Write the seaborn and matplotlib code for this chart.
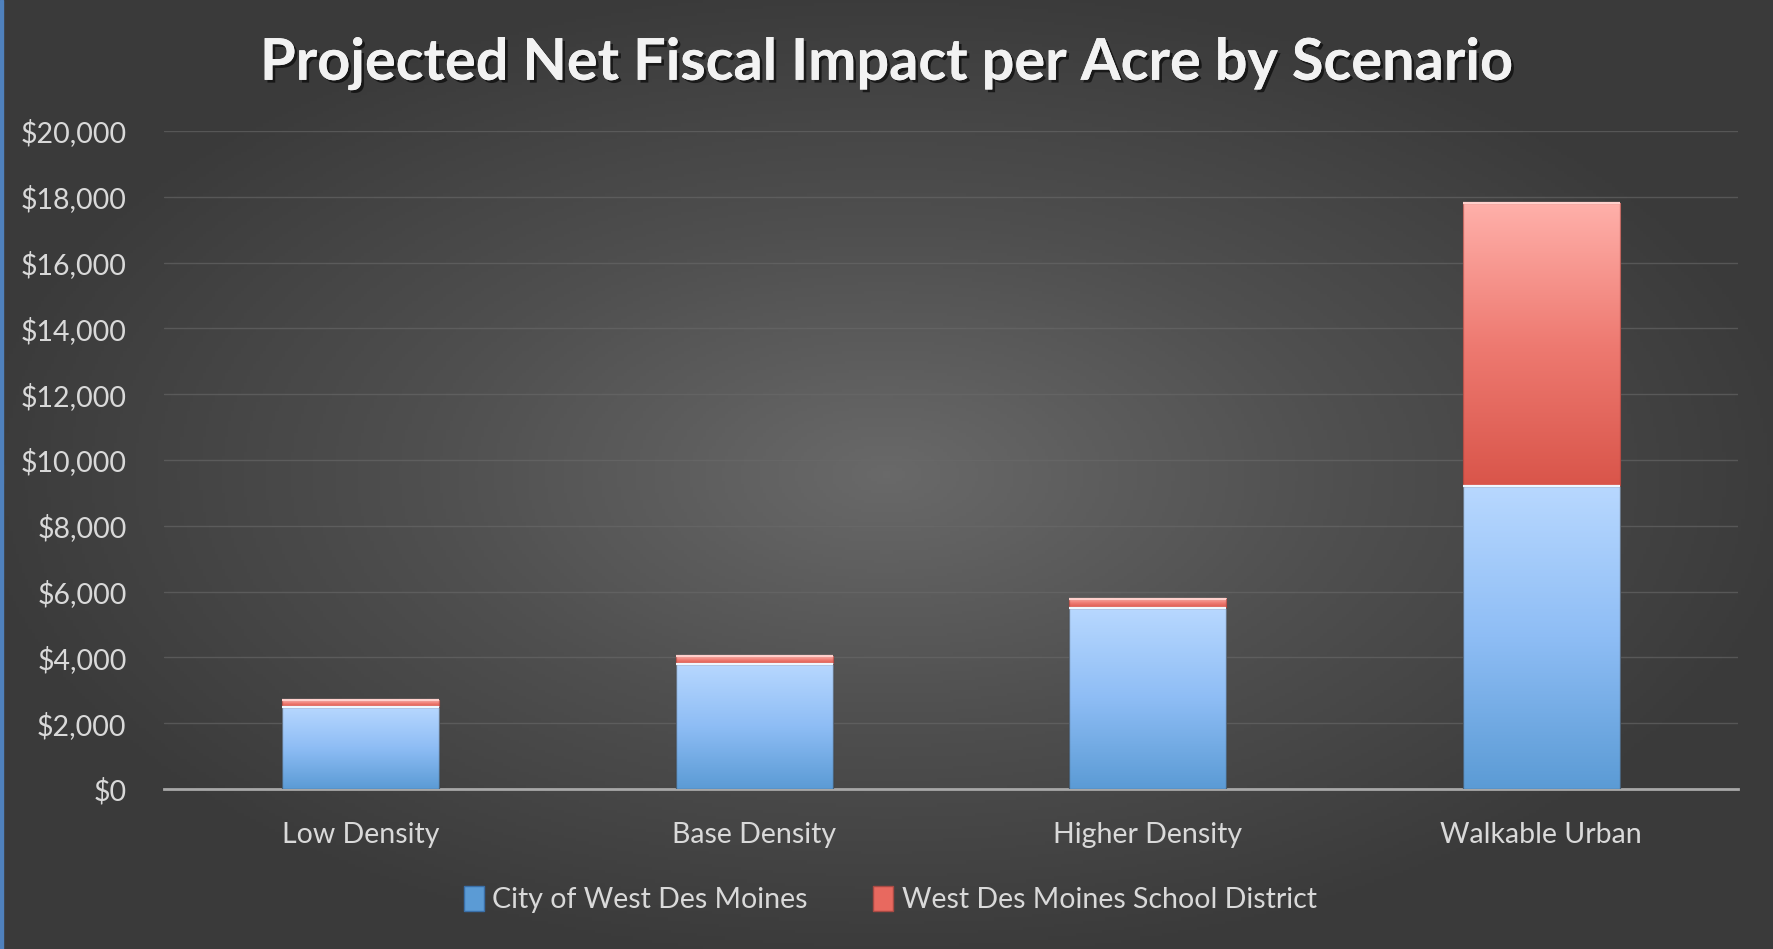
import numpy as np
import pandas as pd
import seaborn as sns
import matplotlib.pyplot as plt
from matplotlib.colors import LinearSegmentedColormap
from matplotlib.patches import Patch, Rectangle
import matplotlib.patheffects as pe

# dados
cenarios = ["Low Density", "Base Density", "Higher Density", "Walkable Urban"]
cidade = [2500, 3800, 5500, 9200]
escola = [210, 230, 280, 8600]
yticks = list(range(0, 20001, 2000))

df = pd.DataFrame({"cenario": cenarios, "cidade": cidade, "escola": escola})
df["total"] = df["cidade"] + df["escola"]

sns.set_style("dark")
plt.rcParams["font.family"] = ["Lato", "DejaVu Sans"]

fig = plt.figure(figsize=(17.73, 9.49), dpi=100)

# fundo com gradiente radial
bg = fig.add_axes([0, 0, 1, 1], zorder=0)
yy, xx = np.mgrid[0:1:300j, 0:1:560j]
r = np.sqrt(((xx - 0.5) / 0.75) ** 2 + ((yy - 0.5) / 0.75) ** 2)
r = np.clip(r / 0.7, 0, 1)
cmap_bg = LinearSegmentedColormap.from_list("bg", ["#696969", "#4f4f4f", "#3a3a3a"])
bg.imshow(r, cmap=cmap_bg, extent=[0, 1, 0, 1], aspect="auto", vmin=0, vmax=1)
bg.set_axis_off()
bg.add_patch(Rectangle((0, 0), 0.0015, 1, color="#4f81bd", transform=bg.transAxes))

ax = fig.add_axes([0.0925, 0.1686, 0.8878, 0.6933], zorder=1)
ax.patch.set_alpha(0)

sns.barplot(data=df, x="cenario", y="total", color="#e0574c", width=0.4, ax=ax,
            saturation=1, edgecolor="none")
sns.barplot(data=df, x="cenario", y="cidade", color="#5b9bd5", width=0.4, ax=ax,
            saturation=1, edgecolor="none")

# gradientes nas barras
cm_red = LinearSegmentedColormap.from_list("r", ["#d9554a", "#ee7a71", "#ffb0aa"])
cm_blue = LinearSegmentedColormap.from_list("b", ["#5b9bd5", "#8ebdf5", "#b8d8ff"])
grad = np.linspace(0, 1, 256).reshape(-1, 1)
n = len(cenarios)
for i, p in enumerate(ax.patches):
    x0, y0 = p.get_x(), p.get_y()
    w, h = p.get_width(), p.get_height()
    if i < n:
        # parte vermelha: so o segmento acima da barra azul
        y0 = df["cidade"].iloc[i]
        h = df["escola"].iloc[i]
        cm, topc, edc = cm_red, "#ffd0cc", "#9c3f39"
    else:
        cm, topc, edc = cm_blue, "#eef7ff", "#3a3a3a"
    ax.imshow(grad, cmap=cm, extent=[x0, x0 + w, y0, y0 + h], origin="lower",
              aspect="auto", zorder=2 + (i >= n))
    ax.add_patch(Rectangle((x0, y0), w, h, fill=False, ec=edc, lw=0.9,
                           alpha=0.6, zorder=4))
    ax.plot([x0, x0 + w], [y0 + h, y0 + h], color=topc, lw=1.6, zorder=5,
            solid_capstyle="butt")

ax.set_xlim(-0.5, 3.5)
ax.set_ylim(0, 20000)
ax.set_yticks(yticks)
ax.set_yticklabels(["${:,}".format(v) for v in yticks])
ax.set_xlabel("")
ax.set_ylabel("")
ax.grid(axis="y", color="#6a6a6a", lw=1, alpha=0.6)
ax.grid(axis="x", visible=False)
ax.set_axisbelow(True)
for s in ["top", "right", "left"]:
    ax.spines[s].set_visible(False)
ax.spines["bottom"].set_color("#a8a8a8")
ax.spines["bottom"].set_linewidth(2)
ax.tick_params(axis="y", length=0, pad=27, labelsize=20.5, labelcolor="#d9d9d9")
ax.tick_params(axis="x", length=0, pad=24, labelsize=20.5, labelcolor="#d9d9d9")

fig.text(0.5, 0.933, "Projected Net Fiscal Impact per Acre by Scenario",
         ha="center", va="center", fontsize=41.5, fontweight="bold", color="#f2f2f2",
         path_effects=[pe.withSimplePatchShadow(offset=(2, -2), shadow_rgbFace="black", alpha=0.6),
                       pe.Normal()])

handles = [Patch(facecolor="#5b9bd5", edgecolor="#3a6fa8"),
           Patch(facecolor="#e8695f", edgecolor="#a84a44")]
fig.legend(handles, ["City of West Des Moines", "West Des Moines School District"],
           loc="center", bbox_to_anchor=(0.502, 0.052), ncol=2, frameon=False,
           fontsize=20.5, labelcolor="#d9d9d9", handlelength=0.7, handleheight=1.0,
           handletextpad=0.3, columnspacing=2.3)

fig.savefig("out.png", dpi=100)
